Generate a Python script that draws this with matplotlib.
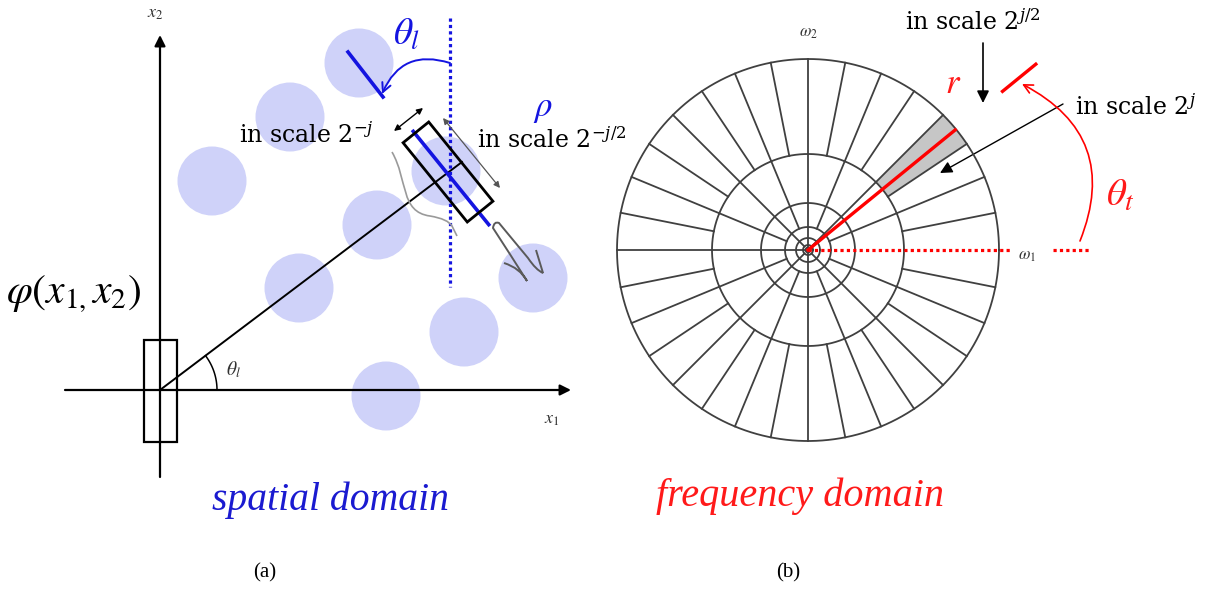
import numpy as np
import matplotlib
matplotlib.use("Agg")
import matplotlib.pyplot as plt
from matplotlib.patches import Circle, Polygon, FancyArrowPatch
from matplotlib.path import Path as MPath
from matplotlib.patches import PathPatch, Rectangle

W, H = 1219, 592

# ---- spatial domain (left panel), pixel units, y grows downward ----
blob_x = [359, 290, 212, 377, 299, 446, 533, 464, 386]
blob_y = [63, 117, 181, 225, 288, 171, 278, 332, 396]
blob_r = 34.5

origin = (160, 390)
atom_len, atom_wid = 102, 33
atom_center = (448, 172)
atom_angle = 51.0          # screen angle of the long side, degrees (clockwise)
ray_end = (462, 162)
theta_small_r = 57

# ---- frequency domain (right panel) ----
f_center = (808, 250)
ring_radii = [191, 96, 47, 23, 12, 5, 2.5]
# (inner radius, outer radius, number of spokes)
spoke_bands = [(96, 191, 32), (23, 96, 16), (5, 23, 8), (0, 5, 4)]
wedge_deg = (33.75, 45.0)
red_ray_deg = 39.2
red_ray_len = 190
tick_r = (251, 294)

BLUE = "#1414e0"
RED = "#ff1a1a"
GRID = "#404040"
BLOB = "#cfd2f9"

plt.rcParams["mathtext.fontset"] = "stix"
LABEL = dict(fontsize=17, family="DejaVu Serif", math_fontfamily="dejavuserif",
             ha="left", va="center")

fig = plt.figure(figsize=(W / 100, H / 100), dpi=100)
ax = fig.add_axes([0, 0, 1, 1])
ax.set_xlim(0, W)
ax.set_ylim(H, 0)
ax.axis("off")


def pt(c, r, deg):
    a = np.deg2rad(deg)
    return c[0] + r * np.cos(a), c[1] - r * np.sin(a)


def arrow(p0, p1, style="-|>", color="black", lw=1.2, ms=14, **kw):
    ax.add_patch(FancyArrowPatch(p0, p1, arrowstyle=style, color=color, lw=lw,
                                 mutation_scale=ms, shrinkA=0, shrinkB=0, **kw))


# blobs
for bx, by in zip(blob_x, blob_y):
    ax.add_patch(Circle((bx, by), blob_r, color=BLOB, lw=0, zorder=1))

# axes x1 / x2
arrow((65, origin[1]), (571, origin[1]), lw=1.6, ms=16)
arrow((origin[0], 477), (origin[0], 35), lw=1.6, ms=16)
ax.text(155, 13, r"$x_2$", fontsize=13, color="#333333", ha="center", va="center")
ax.text(552, 419, r"$x_1$", fontsize=13, color="#333333", ha="center", va="center")

# atom at origin
ax.add_patch(Rectangle((origin[0] - atom_wid / 2, origin[1] - atom_len / 2 + 1),
                       atom_wid, atom_len, fill=False, ec="black", lw=1.6, zorder=3))


def tilted_rect(c, length, width, ang):
    a = np.deg2rad(ang)
    u = np.array([np.cos(a), np.sin(a)]) * length / 2
    v = np.array([-np.sin(a), np.cos(a)]) * width / 2
    c = np.array(c)
    return [c - u - v, c + u - v, c + u + v, c - u + v]


# ray to the rotated atom and its angle
ax.plot([origin[0], ray_end[0]], [origin[1], ray_end[1]], color="black", lw=1.4, zorder=3)
ray_deg = np.rad2deg(np.arctan2(origin[1] - ray_end[1], ray_end[0] - origin[0]))
tt = np.linspace(0, ray_deg, 40)
ax.plot(*pt(origin, theta_small_r, tt), color="black", lw=1.1, zorder=3)
ax.text(234, 370, r"$\theta_l$", fontsize=14, color="#333333", ha="center", va="center")

# rotated atom: blue axis, box
a = np.deg2rad(atom_angle)
d = np.array([np.cos(a), np.sin(a)])
c = np.array(atom_center) + np.array([3, 6])
ax.plot(*zip(c - d * 60, c + d * 60), color=BLUE, lw=2.6, zorder=3)
ax.add_patch(Polygon(tilted_rect(atom_center, atom_len, atom_wid, atom_angle),
                     closed=True, fill=False, ec="black", lw=2.0, zorder=4))

# blue vertical reference line
ax.plot([450, 450], [18, 287], color=BLUE, lw=2.3, ls=(0, (1, 1)), zorder=3)

# blue direction segment inside the top blob and the theta_l arrow
ax.plot([348, 383], [52, 97], color=BLUE, lw=2.6, zorder=3)
arrow((450, 63), (382, 94), style="->", color=BLUE, lw=1.4, ms=16,
      connectionstyle="arc3,rad=0.45", zorder=5)
ax.text(407, 35, r"$\theta_l$", fontsize=27, color=BLUE, ha="center", va="center")
ax.text(543, 108, r"$\rho$", fontsize=25, color=BLUE, ha="center", va="center")

# double arrows along the atom
arrow((394, 131), (423, 108), style="<|-|>", lw=1.0, ms=9, zorder=5)
arrow((443, 118), (500, 188), style="<|-|>", color="#555555", lw=0.9, ms=9, zorder=5)

# gray envelope and wavelet profile
env = MPath([(392, 152), (408, 180), (400, 212), (430, 216), (448, 219), (452, 226), (457, 236)],
            [MPath.MOVETO, MPath.CURVE4, MPath.CURVE4, MPath.CURVE4,
             MPath.CURVE3, MPath.CURVE3, MPath.LINETO])
ax.add_patch(PathPatch(env, fill=False, ec="#9a9a9a", lw=1.2, zorder=3))
wav = MPath([(504, 263), (520, 268), (527, 281), (510, 254), (493, 228), (494, 221),
             (499, 223), (528, 258), (536, 270), (543, 273), (536, 250)],
            [MPath.MOVETO, MPath.CURVE3, MPath.CURVE3, MPath.CURVE3, MPath.CURVE3,
             MPath.CURVE3, MPath.CURVE3, MPath.LINETO, MPath.CURVE3, MPath.CURVE3,
             MPath.LINETO])
ax.add_patch(PathPatch(wav, fill=False, ec="#5a5a5a", lw=1.4, zorder=3))

ax.text(239, 135, r"in scale $2^{-j}$", **LABEL)
ax.text(477, 140, r"in scale $2^{-j/2}$", **LABEL)

ax.text(6, 294, r"$\varphi(x_{1,}x_2)$", fontsize=30, ha="left", va="center")

sp = ax.text(331, 500, "spatial domain", fontsize=28.5, style="italic",
             family="Liberation Serif", color="#1a1ad0", ha="center", va="center")
sp.set_clip_path(Rectangle((0, 0), 600, 518, transform=ax.transData))
ax.text(265, 573, "(a)", fontsize=15, family="Liberation Serif", ha="center", va="center")

# ---- frequency tiling ----
wa = np.linspace(*wedge_deg, 30)
outer = np.column_stack(pt(f_center, ring_radii[0], wa))
inner = np.column_stack(pt(f_center, ring_radii[1], wa[::-1]))
ax.add_patch(Polygon(np.vstack([outer, inner]), closed=True, fc="#c6c6c6", ec="none", zorder=1))

circ = np.linspace(0, 360, 400)
for r in ring_radii:
    ax.plot(*pt(f_center, r, circ), color=GRID, lw=1.3, zorder=2)
for r0, r1, n in spoke_bands:
    for k in range(1, n):
        ang = 360.0 * k / n
        x0, y0 = pt(f_center, r0, ang)
        x1, y1 = pt(f_center, r1, ang)
        ax.plot([x0, x1], [y0, y1], color=GRID, lw=1.3, zorder=2)

ax.plot(*zip(f_center, pt(f_center, red_ray_len, red_ray_deg)), color="red", lw=2.4, zorder=4)
ax.plot([f_center[0], 1012], [f_center[1]] * 2, color="red", lw=2.3, ls=(0, (1, 1)), zorder=4)
ax.plot([1053, 1089], [f_center[1]] * 2, color="red", lw=2.3, ls=(0, (1, 1)), zorder=4)
ax.plot(*zip(pt(f_center, tick_r[0], red_ray_deg), pt(f_center, tick_r[1], red_ray_deg)),
        color="red", lw=2.4, zorder=4)

ax.text(808, 32, r"$\omega_2$", fontsize=12, color="#333333", ha="center", va="center")
ax.text(1027, 255, r"$\omega_1$", fontsize=12, color="#333333", ha="center", va="center")

arrow((1080, 241), (1022, 84), style="->", color="red", lw=1.2, ms=16,
      connectionstyle="arc3,rad=0.45", zorder=5)
ax.text(1120, 195, r"$\theta_t$", fontsize=28, color=RED, ha="center", va="center")
ax.text(953, 83, r"$r$", fontsize=25, color=RED, ha="center", va="center")

arrow((983, 43), (983, 103), lw=1.2, ms=18)
arrow((1063, 104), (940, 173), lw=1.0, ms=18)
ax.text(905, 22, r"in scale $2^{j/2}$", **LABEL)
ax.text(1075, 107, r"in scale $2^{j}$", **LABEL)

ax.text(800, 496, "frequency domain", fontsize=29, style="italic",
        family="Liberation Serif", color=RED, ha="center", va="center")
ax.text(788, 573, "(b)", fontsize=15, family="Liberation Serif", ha="center", va="center")

fig.savefig("out.png", dpi=100, facecolor="white")
